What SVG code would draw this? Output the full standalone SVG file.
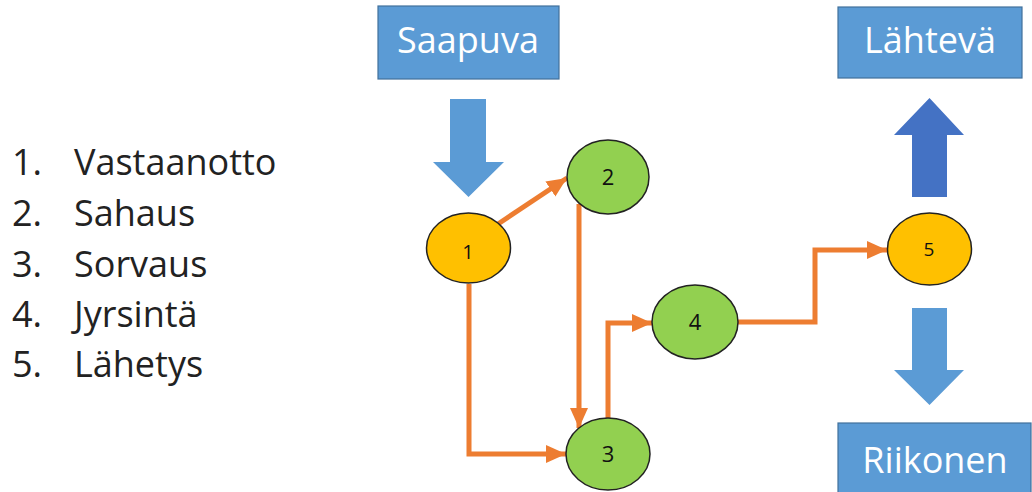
<svg xmlns="http://www.w3.org/2000/svg" width="1032" height="492" viewBox="0 0 1032 492">
<style>
.box{fill:#5B9BD5;stroke:#41719C;stroke-width:1.2}
.boxt{font-family:"Open Sans","Liberation Sans",sans-serif;font-size:36px;fill:#fff;text-anchor:middle}
.lst{font-family:"Open Sans","Liberation Sans",sans-serif;font-size:36px;fill:#222}
.y{fill:#FFC000;stroke:#222;stroke-width:1.5}
.g{fill:#92D050;stroke:#222;stroke-width:1.5}
.nt{font-family:"Open Sans","Liberation Sans",sans-serif;fill:#111;text-anchor:middle}
.c{fill:none;stroke:#ED7D31;stroke-width:5;marker-end:url(#ah)}
</style>
<defs>
<marker id="ah" markerUnits="userSpaceOnUse" markerWidth="22" markerHeight="20" refX="20" refY="9" orient="auto">
<path d="M0,0 L20,9 L0,18 Z" fill="#ED7D31"/>
</marker>
</defs>
<rect width="1032" height="492" fill="#fff"/>
<g id="legend">
<text class="lst" x="12" y="175">1.</text><text class="lst" x="74" y="175">Vastaanotto</text>
<text class="lst" x="12" y="226">2.</text><text class="lst" x="74" y="226">Sahaus</text>
<text class="lst" x="12" y="277">3.</text><text class="lst" x="74" y="277">Sorvaus</text>
<text class="lst" x="12" y="327">4.</text><text class="lst" x="74" y="327">Jyrsintä</text>
<text class="lst" x="12" y="377">5.</text><text class="lst" x="74" y="377">Lähetys</text>
</g>
<g id="saapuva">
<rect class="box" x="378" y="6" width="181" height="73"/>
<text class="boxt" x="468" y="53">Saapuva</text>
</g>
<g id="lahteva">
<rect class="box" x="838" y="7" width="184" height="71"/>
<text class="boxt" x="930" y="53">Lähtevä</text>
</g>
<g id="riikonen">
<rect class="box" x="838" y="423" width="193" height="75"/>
<text class="boxt" x="935" y="473">Riikonen</text>
</g>
<g id="arrow-in">
<path d="M450,99 H486 V162 H504 L468.5,197 L433,162 H450 Z" fill="#5B9BD5"/>
</g>
<g id="arrow-out-up">
<path d="M912,197 H947 V135 H964 L929.5,98 L894,135 H912 Z" fill="#4472C4"/>
</g>
<g id="arrow-out-down">
<path d="M912,308 H947 V370 H964 L929.5,405 L894,370 H912 Z" fill="#5B9BD5"/>
</g>
<g id="connectors">
<path class="c" d="M498,224 L567,178"/>
<path class="c" d="M469,284 V454 H566"/>
<path class="c" d="M579,204 V428"/>
<path class="c" d="M608,418 V323 H652"/>
<path class="c" d="M738,322 H815 V250 H887"/>
</g>
<g id="n1"><ellipse class="y" cx="468.5" cy="248" rx="42" ry="35"/><text class="nt" x="468" y="259" font-size="20">1</text></g>
<g id="n2"><ellipse class="g" cx="608" cy="177" rx="41" ry="37"/><text class="nt" x="608" y="185" font-size="22">2</text></g>
<g id="n3"><ellipse class="g" cx="608" cy="454" rx="42" ry="36"/><text class="nt" x="608" y="462" font-size="22">3</text></g>
<g id="n4"><ellipse class="g" cx="695" cy="322" rx="43" ry="37"/><text class="nt" x="695" y="330" font-size="22">4</text></g>
<g id="n5"><ellipse class="y" cx="929.5" cy="249" rx="42" ry="36"/><text class="nt" x="929" y="256" font-size="19">5</text></g>
</svg>
